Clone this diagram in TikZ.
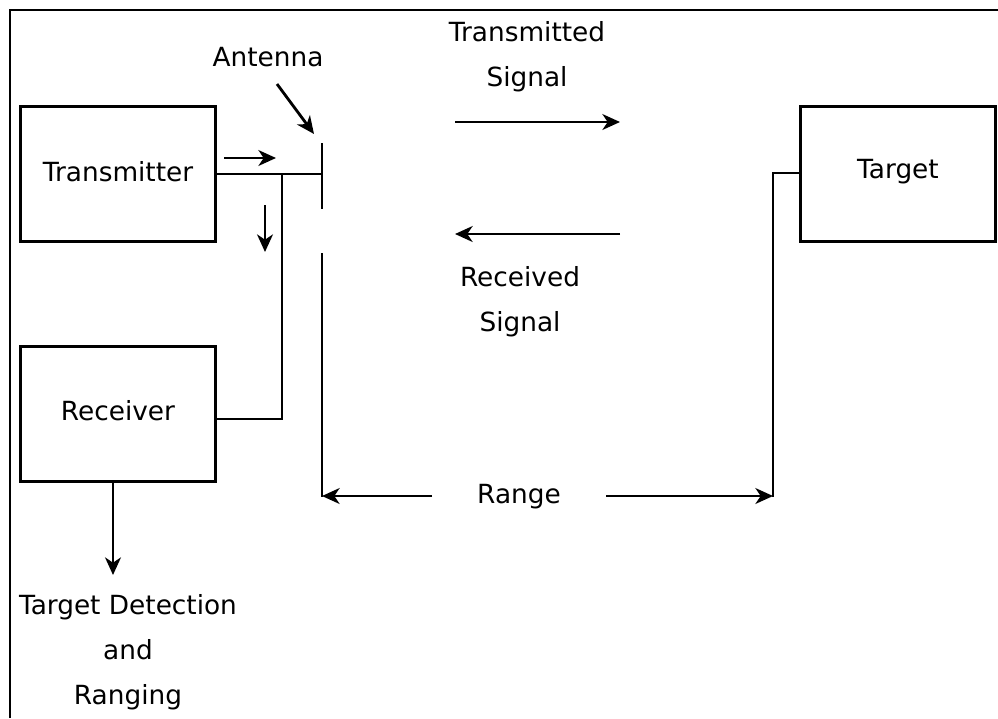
\documentclass[tikz,border=0pt]{standalone}
\usepackage{fontspec}
\setmainfont{DejaVu Sans}
\usepackage{tikz}
\usetikzlibrary{calc,arrows.meta}
\tikzset{
  blk/.style={draw, line width=1.6pt, minimum width=3.9cm, minimum height=2.7cm},
  lbl/.style={align=center, font=\fontsize{15pt}{25.6pt}\selectfont},
  wire/.style={line width=1.6pt},
  sig/.style={line width=1.6pt, -{Stealth[length=10pt,width=9pt,inset=3pt]}},
}

\begin{document}
\begin{tikzpicture}[x=0.02cm, y=-0.02cm]
    \useasboundingbox (0,0) rectangle (998,718);
    % frame
    \draw[line width=1.6pt] (10,718) -- (10,10) -- (998,10);
    % blocks
    \node[blk] (tx) at (118,174) {};
    \node[blk] (rx) at (118,414) {};
    \node[blk] (tgt) at (898,174) {};
    \node[lbl] at (118,172) {Transmitter};
    \node[lbl] at (118,411) {Receiver};
    \node[lbl] at (898,172) {Target};
    % antenna
    \coordinate (antTop) at (322,143);
    \coordinate (antMid) at (322,209);
    \coordinate (antLow) at (322,253);
    \coordinate (antBot) at (322,497);
    \coordinate (feed) at (322,174);
    \coordinate (split) at (282,174);
    \draw[wire] (antTop) -- (antMid);
    \draw[wire] (antLow) -- (antBot);
    \draw[wire] (tx.east |- feed) -- (feed);
    \draw[wire] (split) |- (rx.east |- 0,419);
    \draw[sig] (224,158) -- (276,158);
    \draw[sig] (265,205) -- (265,252);
    \node[lbl] (antlbl) at (268,57) {Antenna};
    \draw[sig] (277,84) -- (314,134);
    % signals
    \node[lbl] (txsig) at (527,57) {Transmitted\\Signal};
    \draw[sig] (455,122) -- (620,122);
    \node[lbl] (rxsig) at (520,302) {Received\\Signal};
    \draw[sig] (620,234) -- (455,234);
    % target lead
    \coordinate (tgtBot) at (773,497);
    \draw[wire] (tgt.west |- 0,173) -| (tgtBot);
    % range
    \node[lbl] (range) at (519,497) {Range};
    \draw[sig] (432,496) -- (antBot |- 0,496);
    \draw[sig] (606,496) -- (tgtBot |- 0,496);
    % output
    \node[lbl] (out) at (128,652) {Target Detection\\and\\Ranging};
    \draw[sig] (rx.south -| 113,0) -- (113,575);
\end{tikzpicture}
\end{document}
